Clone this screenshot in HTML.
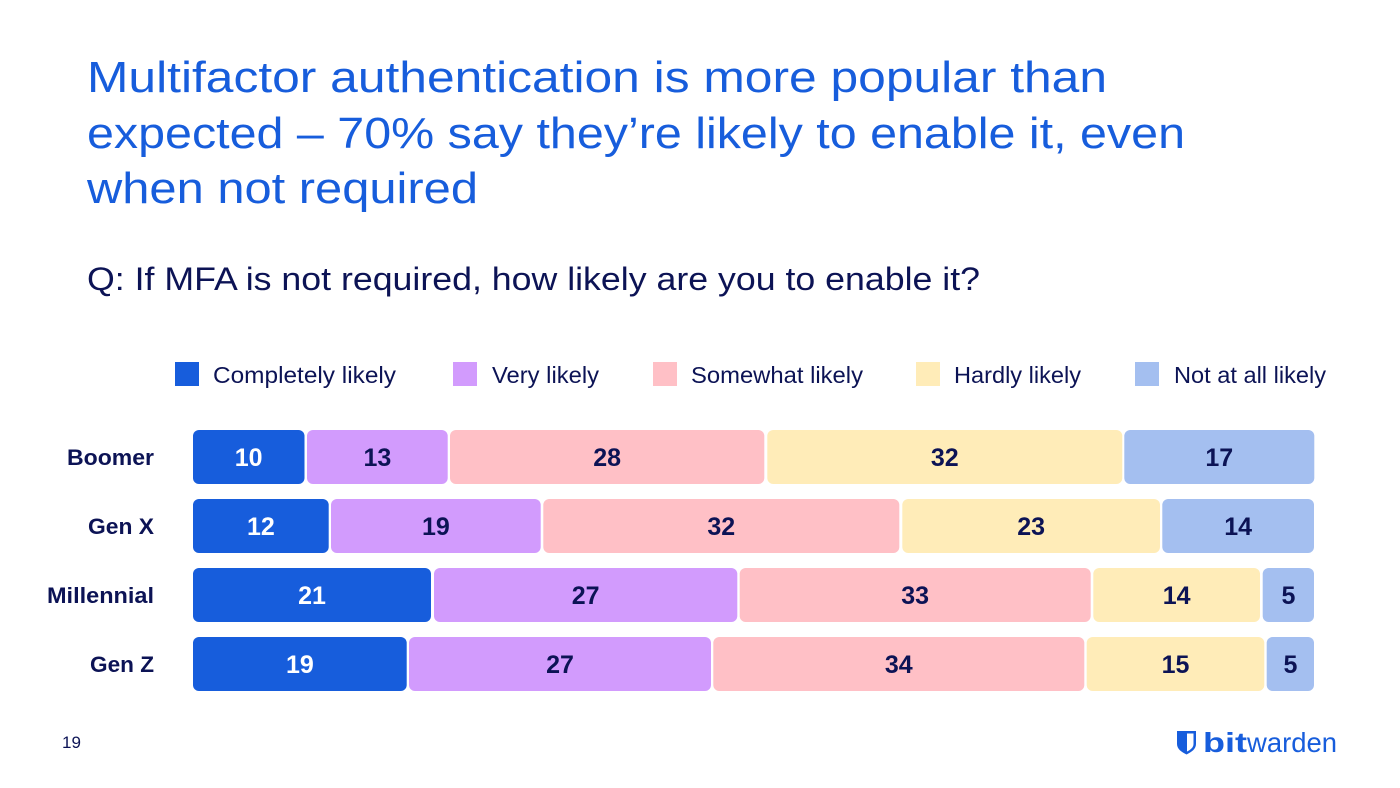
<!DOCTYPE html>
<html>
<head>
<meta charset="utf-8">
<style>
html,body{margin:0;padding:0;background:#ffffff;}
svg{display:block;}
text{font-family:"Liberation Sans",Arial,sans-serif;}
</style>
</head>
<body>
<svg width="1400" height="788" viewBox="0 0 1400 788" xmlns="http://www.w3.org/2000/svg">
<rect width="1400" height="788" fill="#ffffff"/>

<!-- Title -->
<g fill="#175DDC" font-size="44">
<text x="87" y="92" textLength="1020" lengthAdjust="spacingAndGlyphs">Multifactor authentication is more popular than</text>
<text x="87" y="148" textLength="1098" lengthAdjust="spacingAndGlyphs">expected – 70% say they’re likely to enable it, even</text>
<text x="87" y="203" textLength="391" lengthAdjust="spacingAndGlyphs">when not required</text>
</g>

<!-- Subtitle -->
<text x="87" y="290" font-size="32" fill="#0c1355" textLength="893" lengthAdjust="spacingAndGlyphs">Q: If MFA is not required, how likely are you to enable it?</text>

<!-- Legend -->
<g font-size="23" fill="#0c1355">
<rect x="175" y="362" width="24" height="24" fill="#175DDC"/>
<text x="213" y="383" textLength="183" lengthAdjust="spacingAndGlyphs">Completely likely</text>
<rect x="453" y="362" width="24" height="24" fill="#D29BFD"/>
<text x="492" y="383" textLength="107" lengthAdjust="spacingAndGlyphs">Very likely</text>
<rect x="653" y="362" width="24" height="24" fill="#FFC0C6"/>
<text x="691" y="383" textLength="172" lengthAdjust="spacingAndGlyphs">Somewhat likely</text>
<rect x="916" y="362" width="24" height="24" fill="#FFECB8"/>
<text x="954" y="383" textLength="127" lengthAdjust="spacingAndGlyphs">Hardly likely</text>
<rect x="1135" y="362" width="24" height="24" fill="#A4BFF0"/>
<text x="1174" y="383" textLength="152" lengthAdjust="spacingAndGlyphs">Not at all likely</text>
</g>

<!-- Row labels -->
<g font-size="22" font-weight="bold" fill="#0c1355" text-anchor="end">
<text x="154" y="465" textLength="87" lengthAdjust="spacingAndGlyphs">Boomer</text>
<text x="154" y="534" textLength="66" lengthAdjust="spacingAndGlyphs">Gen X</text>
<text x="154" y="603" textLength="107" lengthAdjust="spacingAndGlyphs">Millennial</text>
<text x="154" y="672" textLength="64" lengthAdjust="spacingAndGlyphs">Gen Z</text>
</g>

<g font-size="25" font-weight="bold" text-anchor="middle">
<!-- Boomer -->
<rect x="193" y="430" width="111.5" height="54" rx="6" fill="#175DDC"/>
<rect x="307" y="430" width="140.7" height="54" rx="6" fill="#D29BFD"/>
<rect x="450" y="430" width="314.3" height="54" rx="6" fill="#FFC0C6"/>
<rect x="767.3" y="430" width="355" height="54" rx="6" fill="#FFECB8"/>
<rect x="1124.3" y="430" width="190" height="54" rx="6" fill="#A4BFF0"/>
<text x="248.7" y="466" fill="#ffffff">10</text>
<text x="377.4" y="466" fill="#0c1355">13</text>
<text x="607.2" y="466" fill="#0c1355">28</text>
<text x="944.8" y="466" fill="#0c1355">32</text>
<text x="1219.3" y="466" fill="#0c1355">17</text>

<!-- Gen X -->
<rect x="193" y="499" width="135.7" height="54" rx="6" fill="#175DDC"/>
<rect x="331" y="499" width="209.7" height="54" rx="6" fill="#D29BFD"/>
<rect x="543.3" y="499" width="356" height="54" rx="6" fill="#FFC0C6"/>
<rect x="902.3" y="499" width="257.7" height="54" rx="6" fill="#FFECB8"/>
<rect x="1162.3" y="499" width="151.7" height="54" rx="6" fill="#A4BFF0"/>
<text x="260.9" y="535" fill="#ffffff">12</text>
<text x="435.9" y="535" fill="#0c1355">19</text>
<text x="721.3" y="535" fill="#0c1355">32</text>
<text x="1031.2" y="535" fill="#0c1355">23</text>
<text x="1238.2" y="535" fill="#0c1355">14</text>

<!-- Millennial -->
<rect x="193" y="568" width="238" height="54" rx="6" fill="#175DDC"/>
<rect x="434" y="568" width="303.3" height="54" rx="6" fill="#D29BFD"/>
<rect x="739.7" y="568" width="351" height="54" rx="6" fill="#FFC0C6"/>
<rect x="1093.3" y="568" width="166.7" height="54" rx="6" fill="#FFECB8"/>
<rect x="1262.7" y="568" width="51.3" height="54" rx="6" fill="#A4BFF0"/>
<text x="312" y="604" fill="#ffffff">21</text>
<text x="585.7" y="604" fill="#0c1355">27</text>
<text x="915.2" y="604" fill="#0c1355">33</text>
<text x="1176.7" y="604" fill="#0c1355">14</text>
<text x="1288.4" y="604" fill="#0c1355">5</text>

<!-- Gen Z -->
<rect x="193" y="637" width="213.7" height="54" rx="6" fill="#175DDC"/>
<rect x="409" y="637" width="302" height="54" rx="6" fill="#D29BFD"/>
<rect x="713.3" y="637" width="371" height="54" rx="6" fill="#FFC0C6"/>
<rect x="1086.7" y="637" width="177.6" height="54" rx="6" fill="#FFECB8"/>
<rect x="1266.7" y="637" width="47.3" height="54" rx="6" fill="#A4BFF0"/>
<text x="299.9" y="673" fill="#ffffff">19</text>
<text x="560" y="673" fill="#0c1355">27</text>
<text x="898.8" y="673" fill="#0c1355">34</text>
<text x="1175.5" y="673" fill="#0c1355">15</text>
<text x="1290.4" y="673" fill="#0c1355">5</text>
</g>

<!-- Page number -->
<text x="62" y="748" font-size="17" fill="#0c1355">19</text>

<!-- Bitwarden logo -->
<path d="M1177,731 H1196 V744 C1196,749 1191.5,752 1186.5,754.5 C1181.5,752 1177,749 1177,744 Z" fill="#175DDC"/>
<path d="M1187,733.5 H1193.5 V744 C1193.5,747.5 1190.5,749.8 1187,751.5 Z" fill="#ffffff"/>
<text x="1203" y="752" font-size="28" font-weight="bold" fill="#175DDC" textLength="44" lengthAdjust="spacingAndGlyphs">bit</text>
<text x="1247" y="752" font-size="28" fill="#175DDC" textLength="90" lengthAdjust="spacingAndGlyphs">warden</text>
</svg>
</body>
</html>
